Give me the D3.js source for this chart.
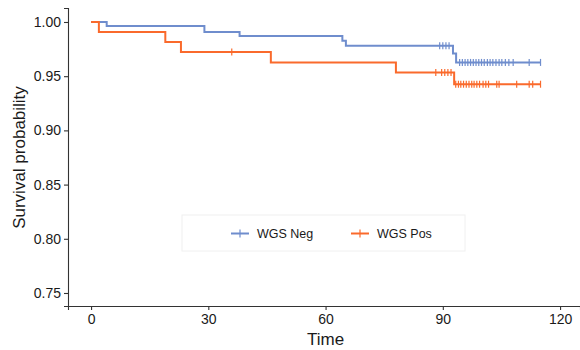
<!DOCTYPE html>
<meta charset="utf-8">
<style>
body { margin: 0; background: #fff; }
text { font-family: "Liberation Sans", Arial, sans-serif; fill: #1a1a1a; }
.axis path, .axis line { stroke: #333; stroke-width: 1.1px; }
.axis text { font-size: 14px; }
</style>
<svg width="580" height="350"></svg>
<script src="https://d3js.org/d3.v7.min.js"></script>
<script>

// step curve data
var negTimes = [0, 4, 29, 38, 64.3, 65.2, 92.6, 93.4];
var negSurv  = [1, 0.9963, 0.9908, 0.9871, 0.9826, 0.978, 0.971, 0.9627];
var negEnd = 115;
var negCensor = [89.2, 90.0, 90.8, 91.6,
  94.3, 95.0, 95.7, 96.4, 97.1, 97.8, 98.5, 99.2, 99.9, 100.6, 101.4,
  102.1, 102.8, 103.6, 104.4, 105.1, 106.0, 106.9, 108.0, 112.1, 115];

var posTimes = [0, 2, 19, 23, 46, 78, 92.9];
var posSurv  = [1, 0.9907, 0.9815, 0.9722, 0.9627, 0.9534, 0.9426];
var posEnd = 115;
var posCensor = [36, 88.2, 89.7, 90.5, 91.3, 92.1,
  93.3, 94.0, 94.6, 95.3, 96.0, 96.7, 97.4, 98.0, 98.7, 99.4, 100.3,
  101.0, 101.7, 103.8, 104.4, 108.9, 112.1, 113.0, 115];

var groups = ["WGS Neg", "WGS Pos"];
var colors = ["#6f8dcd", "#fa6a2c"];
var xTicks = [0, 30, 60, 90, 120];
var yTicks = [0.75, 0.80, 0.85, 0.90, 0.95, 1.00];

var svg = d3.select("svg");

var x = d3.scaleLinear().domain([-5.9, 125.1]).range([68, 580]);
var y = d3.scaleLinear().domain([0.738, 1.0129]).range([306, 8]);

svg.append("g")
    .attr("class", "axis")
    .attr("transform", "translate(0,306)")
    .call(d3.axisBottom(x).tickValues(xTicks).tickSizeOuter(0).tickSize(4).tickPadding(4));

svg.append("g")
    .attr("class", "axis")
    .attr("transform", "translate(68,0)")
    .call(d3.axisLeft(y).tickValues(yTicks).tickFormat(d3.format(".2f")).tickSizeOuter(0).tickSize(4).tickPadding(3));

svg.selectAll(".axis text").attr("fill", "#1a1a1a");

svg.append("text")
    .attr("x", x(60))
    .attr("y", 345)
    .attr("text-anchor", "middle")
    .style("font-size", "17px")
    .text("Time");

svg.append("text")
    .attr("transform", "translate(25," + y(0.875) + ") rotate(-90)")
    .attr("text-anchor", "middle")
    .style("font-size", "17px")
    .text("Survival probability");

// legend box
svg.append("rect")
    .attr("x", 182).attr("y", 215)
    .attr("width", 283).attr("height", 36)
    .attr("fill", "#fff")
    .attr("stroke", "#f0f0f0");

var line = d3.line()
    .x(function(d) { return x(d[0]); })
    .y(function(d) { return y(d[1]); })
    .curve(d3.curveStepAfter);

function survAt(times, surv, t) {
  var s = surv[0];
  for (var i = 0; i < times.length; i++) if (times[i] <= t) s = surv[i];
  return s;
}

var series = [
  {times: negTimes, surv: negSurv, end: negEnd, censor: negCensor},
  {times: posTimes, surv: posSurv, end: posEnd, censor: posCensor}
];

series.forEach(function(s, i) {
  var pts = s.times.map(function(t, j) { return [t, s.surv[j]]; });
  pts.push([s.end, s.surv[s.surv.length - 1]]);
  svg.append("path")
      .attr("d", line(pts))
      .attr("fill", "none")
      .attr("stroke", colors[i])
      .attr("stroke-width", 2);
  svg.append("g").selectAll("line")
    .data(s.censor)
    .enter().append("line")
      .attr("x1", function(d) { return x(d); })
      .attr("x2", function(d) { return x(d); })
      .attr("y1", function(d) { return y(survAt(s.times, s.surv, d)) - 3.5; })
      .attr("y2", function(d) { return y(survAt(s.times, s.surv, d)) + 3.5; })
      .attr("stroke", colors[i])
      .attr("stroke-width", 1.2);
});

// legend keys
var keyX = [231, 351];
groups.forEach(function(g, i) {
  svg.append("line")
      .attr("x1", keyX[i]).attr("x2", keyX[i] + 18)
      .attr("y1", 233.5).attr("y2", 233.5)
      .attr("stroke", colors[i]).attr("stroke-width", 2);
  svg.append("line")
      .attr("x1", keyX[i] + 9).attr("x2", keyX[i] + 9)
      .attr("y1", 229.5).attr("y2", 237.5)
      .attr("stroke", colors[i]).attr("stroke-width", 1.2);
  svg.append("text")
      .attr("x", keyX[i] + 26)
      .attr("y", 238)
      .style("font-size", "12.5px")
      .text(g);
});

</script>
